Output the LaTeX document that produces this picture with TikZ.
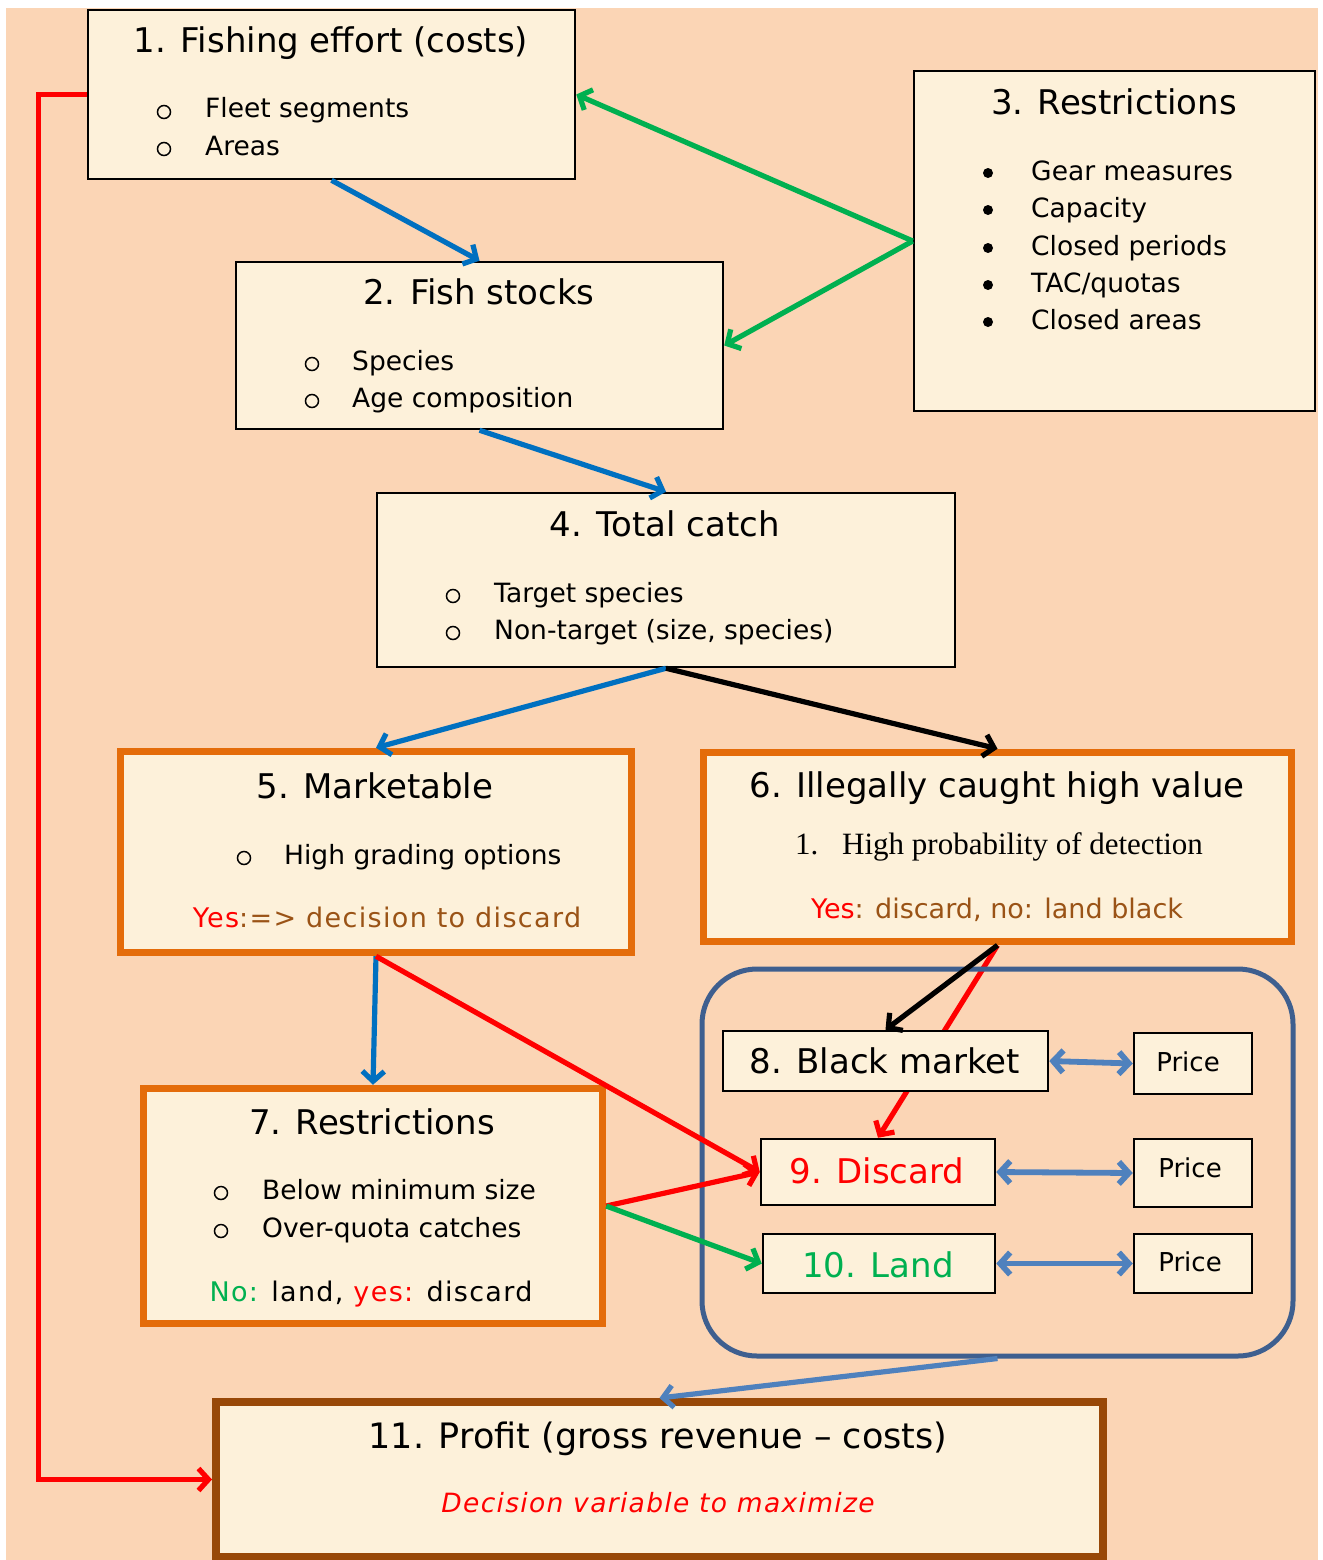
\documentclass[tikz,border=0pt]{standalone}
\usepackage{fontspec}
\setmainfont{DejaVu Sans}
\newfontfamily\vfont{DejaVu Sans}
\newfontfamily\sfontls{DejaVu Sans}[LetterSpace=5]
\newfontfamily\serfont{Liberation Serif}
\usetikzlibrary{arrows.meta}
\definecolor{peach}{HTML}{FBD5B5}
\definecolor{cream}{HTML}{FDF1DA}
\definecolor{orangeb}{HTML}{E46C0A}
\definecolor{brownb}{HTML}{984807}
\definecolor{brownt}{HTML}{9A5316}
\definecolor{redc}{HTML}{FF0000}
\definecolor{greenc}{HTML}{00B050}
\definecolor{bluec}{HTML}{0070C0}
\definecolor{lblue}{HTML}{4F81BD}
\definecolor{frameblue}{HTML}{3E5F8F}
\pgfdeclarelayer{back}
\pgfdeclarelayer{mid}
\pgfsetlayers{back,mid,main}
\tikzset{
  box/.style={draw=black, line width=2.5pt, fill=cream, inner sep=0pt},
  obox/.style={box, draw=orangeb, line width=7.5pt},
  bbox/.style={box, draw=brownb, line width=8pt},
  txt/.style={inner sep=0pt, anchor=base},
  ttl/.style={txt, font=\vfont\fontsize{34}{40}\selectfont},
  body/.style={txt, anchor=base west, font=\vfont\fontsize{26.5}{31}\selectfont},
  bul/.style={circle, draw=black, line width=1.5pt, minimum size=13pt, inner sep=0pt},
  dot/.style={circle, fill=black, minimum size=10pt, inner sep=0pt},
  stat/.style={txt, font=\sfontls\fontsize{27}{32}\selectfont},
  price/.style={txt, font=\vfont\fontsize{26}{31}\selectfont},
  arr/.style={-{Straight Barb[length=10pt,width=22pt]}, line width=5.2pt},
  darr/.style={{Straight Barb[length=10pt,width=22pt]}-{Straight Barb[length=10pt,width=22pt]}, line width=5.8pt, draw=lblue},
}
\begin{document}
\begin{tikzpicture}[x=1pt,y=-1pt]
\useasboundingbox (0,0) rectangle (1322,1560);
\begin{pgfonlayer}{back}
\fill[peach] (6,8) rectangle (1318,1560);
\end{pgfonlayer}

% container
\node[draw=frameblue, line width=5pt, rounded corners=55pt, minimum width=591pt, minimum height=387pt, inner sep=0pt] (mkt) at (997.5,1162.5) {};

% boxes
\node[box, minimum width=487pt, minimum height=169pt] (b1) at (331.5,94.5) {};
\node[box, minimum width=487pt, minimum height=167pt] (b2) at (479.5,345.5) {};
\node[box, minimum width=401pt, minimum height=340pt] (b3) at (1114.5,241) {};
\node[box, minimum width=578pt, minimum height=174pt] (b4) at (666,580) {};
\node[obox, minimum width=511pt, minimum height=201pt] (b5) at (376,852) {};
\node[obox, minimum width=588pt, minimum height=189pt] (b6) at (997.5,847) {};
\node[obox, minimum width=459pt, minimum height=235pt] (b7) at (373,1206) {};
\node[box, minimum width=325pt, minimum height=60pt] (b8) at (885.5,1061) {};
\node[box, minimum width=234pt, minimum height=66pt] (b9) at (878,1172) {};
\node[box, minimum width=232pt, minimum height=59pt] (b10) at (879,1263.5) {};
\node[box, minimum width=118pt, minimum height=61pt] (p1) at (1193,1063.5) {};
\node[box, minimum width=118pt, minimum height=68pt] (p2) at (1193,1173) {};
\node[box, minimum width=118pt, minimum height=59pt] (p3) at (1193,1263.5) {};
\node[bbox, minimum width=887pt, minimum height=155pt] (b11) at (659.5,1479.5) {};

% texts box 1
\node[ttl] (t1) at (331,53) {1. Fishing effort (costs)};
\node[bul] (t1a) at (164,112) {};
\node[body] (t1b) at (205,118) {Fleet segments};
\node[bul] (t1c) at (164,149) {};
\node[body] (t1d) at (205,155) {Areas};
% box 2
\node[ttl] (t2) at (479,304) {2. Fish stocks};
\node[bul] (t2a) at (312,364) {};
\node[body] (t2b) at (352,370) {Species};
\node[bul] (t2c) at (312,401) {};
\node[body] (t2d) at (352,407) {Age composition};
% box 3
\node[ttl] (t3) at (1114,114) {3. Restrictions};
\node[dot] (t3a) at (988,173) {};
\node[body] (t3b) at (1031,180) {Gear measures};
\node[dot] (t3c) at (988,210) {};
\node[body] (t3d) at (1031,217) {Capacity};
\node[dot] (t3e) at (988,248) {};
\node[body] (t3f) at (1031,255) {Closed periods};
\node[dot] (t3g) at (988,285) {};
\node[body] (t3h) at (1031,292) {TAC/quotas};
\node[dot] (t3i) at (988,322) {};
\node[body] (t3j) at (1031,329) {Closed areas};
% box 4
\node[ttl] (t4) at (665,536) {4. Total catch};
\node[bul] (t4a) at (453,596) {};
\node[body] (t4b) at (494,602) {Target species};
\node[bul] (t4c) at (453,633) {};
\node[body] (t4d) at (494,639) {Non-target (size, species)};
% box 5
\node[ttl] (t5) at (375,798) {5. Marketable};
\node[bul] (t5a) at (244,858) {};
\node[body] (t5b) at (284,864) {High grading options};
\node[stat] (t5c) at (387,927) {\textcolor{redc}{Yes}\textcolor{brownt}{:=> decision to discard}};
% box 6
\node[ttl] (t6) at (997,797) {6. Illegally caught high value};
\node[txt, anchor=base west, font=\serfont\fontsize{31}{36}\selectfont] (t6a) at (795,854) {1.};
\node[txt, anchor=base west, font=\serfont\fontsize{31}{36}\selectfont] (t6b) at (842,854) {High probability of detection};
\node[txt, font=\vfont\fontsize{27}{32}\selectfont] (t6c) at (997,918) {\textcolor{redc}{Yes}\textcolor{brownt}{: discard, no: land black}};
% box 7
\node[ttl] (t7) at (372,1134) {7. Restrictions};
\node[bul] (t7a) at (221,1193) {};
\node[body] (t7b) at (262,1199) {Below minimum size};
\node[bul] (t7c) at (221,1231) {};
\node[body] (t7d) at (262,1237) {Over-quota catches};
\node[stat] (t7e) at (371,1301) {\textcolor{greenc}{No:} land, \textcolor{redc}{yes:} discard};
% market boxes
\node[ttl] (t8) at (885,1073) {8. Black market};
\node[ttl, text=redc] (t9) at (877,1183) {9. Discard};
\node[ttl, text=greenc] (t10) at (878,1277) {10. Land};
\node[price] (tp1) at (1188,1071) {Price};
\node[price] (tp2) at (1190,1177) {Price};
\node[price] (tp3) at (1190,1271) {Price};
% box 11
\node[txt, font=\vfont\fontsize{35}{41}\selectfont] (t11) at (658,1448) {11. Profit (gross revenue – costs)};
\node[txt, text=redc, font=\sfontls\itshape\fontsize{26.5}{32}\selectfont] (t11b) at (658,1512) {Decision variable to maximize};

% connectors
\draw[arr, redc] (b1.west) -- ++(-48,0) |- (b11.west);
\draw[arr, bluec] (b1.south) -- (b2.north);
\draw[arr, greenc] (b3.west) -- (b1.east);
\draw[arr, greenc] (b3.west) -- (b2.east);
\draw[arr, bluec] (b2.south) -- (b4.north);
\draw[arr, bluec] (b4.south) -- (b5.north);
\draw[arr, black] (b4.south) -- (b6.north);
\draw[arr, bluec] (b5.south) -- (b7.north);
\draw[arr, redc] (b5.south) -- (b9.west);
\draw[arr, black] (b6.south) -- (b8.north);
\begin{pgfonlayer}{mid}
\draw[arr, redc] (b6.south) -- (b9.north);
\end{pgfonlayer}
\draw[arr, redc] (b7.east) -- (b9.west);
\draw[arr, greenc] (b7.east) -- (b10.west);
\draw[darr] (b8.east) -- (p1.west);
\draw[darr] (b9.east) -- (p2.west);
\draw[darr] (b10.east) -- (p3.west);
\draw[arr, lblue] (mkt.south) -- (b11.north);
\end{tikzpicture}
\end{document}
